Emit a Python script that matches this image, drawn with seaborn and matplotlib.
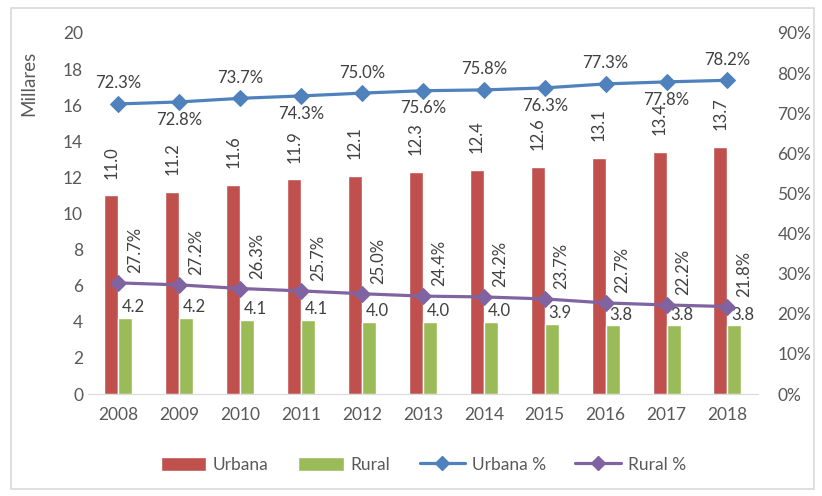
import pandas as pd
import numpy as np
import matplotlib
matplotlib.use("Agg")
import matplotlib.pyplot as plt
import seaborn as sns
from matplotlib.patches import Patch, Rectangle
from matplotlib.lines import Line2D

# ==========================
# Data
# ==========================

years = ["2008", "2009", "2010", "2011", "2012", "2013",
         "2014", "2015", "2016", "2017", "2018"]
urbana = [11.0, 11.2, 11.6, 11.9, 12.1, 12.3, 12.4, 12.6, 13.1, 13.4, 13.7]
rural = [4.2, 4.2, 4.1, 4.1, 4.0, 4.0, 4.0, 3.9, 3.8, 3.8, 3.8]
urbana_pct = [72.3, 72.8, 73.7, 74.3, 75.0, 75.6, 75.8, 76.3, 77.3, 77.8, 78.2]
rural_pct = [27.7, 27.2, 26.3, 25.7, 25.0, 24.4, 24.2, 23.7, 22.7, 22.2, 21.8]

RED = "#C0504D"
GREEN = "#9BBB59"
BLUE = "#4F81BD"
PURPLE = "#8064A2"
GRAY = "#595959"

df = pd.DataFrame({
    "year": years * 2,
    "value": urbana + rural,
    "serie": ["Urbana"] * len(years) + ["Rural"] * len(years),
})

# ==========================
# Style
# ==========================

sns.set_style("white")
plt.rcParams["font.family"] = ["Lato", "DejaVu Sans"]

fig = plt.figure(figsize=(8.22, 4.96), dpi=100)
ax = fig.add_axes([0.107, 0.2056, 0.815, 0.728])

sns.barplot(data=df, x="year", y="value", hue="serie",
            palette=[RED, GREEN], width=0.46, saturation=1,
            legend=False, ax=ax)

ax.set_ylim(0, 20)
ax.set_yticks(range(0, 21, 2))
ax.set_xlim(-0.5, len(years) - 0.5)
ax.set_xlabel("")
ax.set_ylabel("Millares", fontsize=13.5, color=GRAY)
ax.yaxis.set_label_coords(-0.075, 0.86)
ax.tick_params(axis="both", length=0, labelsize=12.5, colors=GRAY)
ax.tick_params(axis="x", pad=9)
for s in ["top", "right", "left"]:
    ax.spines[s].set_visible(False)
ax.spines["bottom"].set_color("#D9D9D9")

# bar labels
for bar, v in zip(ax.containers[0], urbana):
    ax.annotate(f"{v:.1f}", (bar.get_x() + bar.get_width() / 2, bar.get_height()),
                xytext=(0, 12), textcoords="offset points", rotation=90,
                ha="center", va="bottom", fontsize=12, color="#404040")
for bar, v in zip(ax.containers[1], rural):
    ax.annotate(f"{v:.1f}", (bar.get_x() + bar.get_width() / 2, bar.get_height()),
                xytext=(6, 2), textcoords="offset points",
                ha="center", va="bottom", fontsize=12, color="#404040")

# ==========================
# Percent lines
# ==========================

ax2 = ax.twinx()
pos = np.arange(len(years))
sns.lineplot(x=pos, y=urbana_pct, color=BLUE, marker="D", markersize=8,
             markeredgecolor=BLUE, linewidth=2.3, ax=ax2)
sns.lineplot(x=pos, y=rural_pct, color=PURPLE, marker="D", markersize=8,
             markeredgecolor=PURPLE, linewidth=2.3, ax=ax2)
ax2.set_ylim(0, 90)
ax2.set_yticks(range(0, 91, 10))
ax2.set_yticklabels([f"{t}%" for t in range(0, 91, 10)])
ax2.tick_params(axis="y", length=0, labelsize=12.5, colors=GRAY, pad=14)
for s in ax2.spines.values():
    s.set_visible(False)

for i, v in enumerate(urbana_pct):
    if i % 2 == 0:
        ax2.annotate(f"{v:.1f}%", (pos[i], v), xytext=(0, 9),
                     textcoords="offset points", ha="center", va="bottom",
                     fontsize=12, color="#404040")
    else:
        ax2.annotate(f"{v:.1f}%", (pos[i], v), xytext=(0, -7),
                     textcoords="offset points", ha="center", va="top",
                     fontsize=12, color="#404040")

for i, v in enumerate(rural_pct):
    ax2.annotate(f"{v:.1f}%", (pos[i], v), xytext=(12, 7),
                 textcoords="offset points", rotation=90,
                 ha="center", va="bottom", fontsize=12, color="#404040")

# ==========================
# Legend and frame
# ==========================

handles = [
    Patch(facecolor=RED, label="Urbana"),
    Patch(facecolor=GREEN, label="Rural"),
    Line2D([], [], color=BLUE, marker="D", markersize=7, linewidth=2.3, label="Urbana %"),
    Line2D([], [], color=PURPLE, marker="D", markersize=7, linewidth=2.3, label="Rural %"),
]
fig.legend(handles=handles, loc="center", bbox_to_anchor=(0.515, 0.063),
           ncol=4, frameon=False, fontsize=12.5, handlelength=2.6,
           handleheight=0.9, handletextpad=0.4, columnspacing=1.7,
           labelcolor=GRAY)

fig.patches.append(Rectangle((11 / 822, 7 / 496), 803 / 822, 481 / 496,
                             transform=fig.transFigure, fill=False,
                             edgecolor="#D9D9D9", linewidth=1.2))

fig.savefig("out.png", dpi=100)
